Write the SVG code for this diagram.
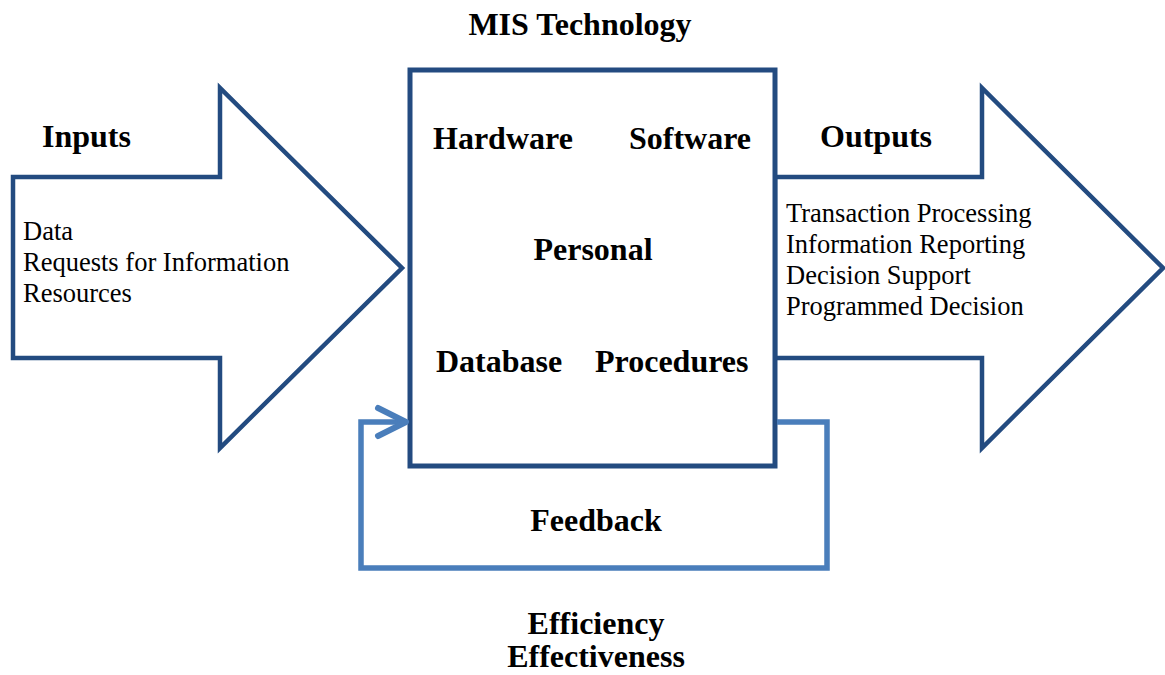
<svg xmlns="http://www.w3.org/2000/svg" width="1165" height="675" viewBox="0 0 1165 675">
<style>
.sh{fill:#fff;stroke:#234b80;stroke-width:4.5;stroke-linejoin:miter}
.b{font-family:"Liberation Serif",serif;font-weight:bold;font-size:32px;fill:#000}
.r{font-family:"Liberation Serif",serif;font-size:26.5px;fill:#000}
.fb{fill:none;stroke:#4a7ebb;stroke-width:5.5}
</style>
<rect width="1165" height="675" fill="#fff"/>
<g id="inputs">
<polygon class="sh" points="13,177 220,177 220,88 402,268 220,448 220,358 13,358"/>
<text class="b" x="42" y="147">Inputs</text>
<text class="r" x="23" y="240">Data</text>
<text class="r" x="23" y="271">Requests for Information</text>
<text class="r" x="23" y="302">Resources</text>
</g>
<g id="outputs">
<polygon class="sh" points="775,177 982,177 982,88 1163,268 982,448 982,358 775,358"/>
<text class="b" x="820" y="147">Outputs</text>
<text class="r" x="786" y="222">Transaction Processing</text>
<text class="r" x="786" y="253">Information Reporting</text>
<text class="r" x="786" y="284">Decision Support</text>
<text class="r" x="786" y="315">Programmed Decision</text>
</g>
<g id="mis">
<rect x="410" y="70" width="365" height="396" fill="#fff" stroke="#234b80" stroke-width="5"/>
<text class="b" x="580" y="35" text-anchor="middle">MIS Technology</text>
<text class="b" x="433" y="149">Hardware</text>
<text class="b" x="629" y="149">Software</text>
<text class="b" x="593" y="260" text-anchor="middle">Personal</text>
<text class="b" x="436" y="372">Database</text>
<text class="b" x="595" y="372">Procedures</text>
</g>
<g id="connectors">
<polyline class="fb" points="777,422 827,422 827,568 361,568 361,422 406,422"/>
<polyline points="378,408 406,422 378,436" fill="none" stroke="#4a7ebb" stroke-width="6" stroke-linecap="round" stroke-linejoin="round"/>
</g>
<g id="feedback-label">
<text class="b" x="596" y="531" text-anchor="middle">Feedback</text>
<text class="b" x="596" y="634" text-anchor="middle">Efficiency</text>
<text class="b" x="596" y="667" text-anchor="middle">Effectiveness</text>
</g>
</svg>
